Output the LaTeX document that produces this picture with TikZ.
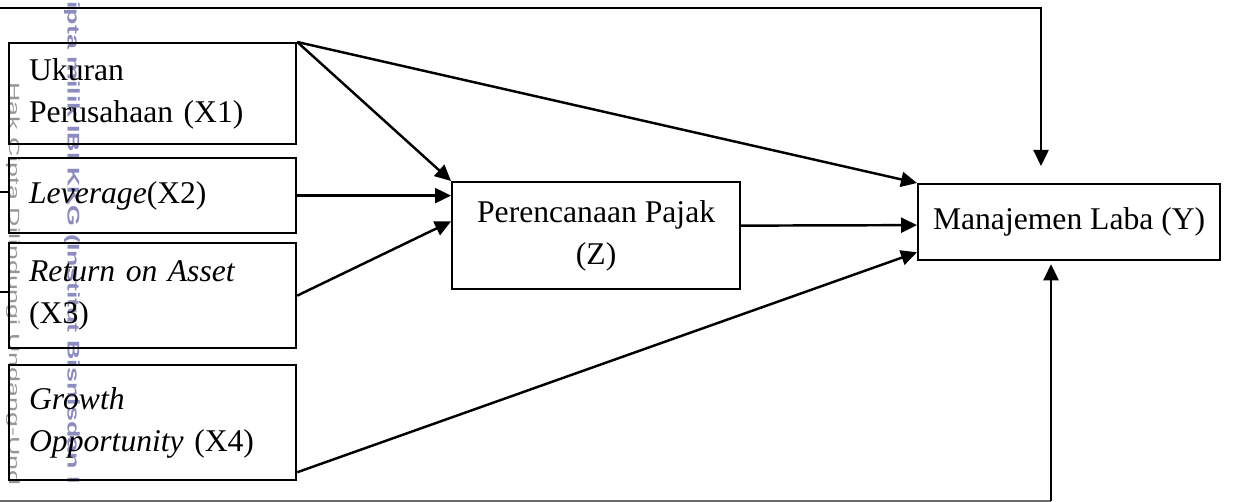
\documentclass[tikz,border=0pt]{standalone}
\usepackage{fontspec}
\setmainfont{Liberation Serif}
\newfontfamily\wmfont{Liberation Sans}
\usepackage{graphicx}
\usetikzlibrary{arrows.meta,calc}
\definecolor{wmblue}{RGB}{140,140,192}
\definecolor{wmgray}{RGB}{150,150,150}
\begin{document}
\begin{tikzpicture}[x=0.02cm,y=-0.02cm,
  box/.style={draw,line width=1.3pt,anchor=north west,inner sep=0pt,font=\fontsize{18}{23.8}\selectfont},
  lbox/.style={box,align=left,text width=4.94cm,inner xsep=0.4cm},
  cbox/.style={box,align=center},
  conn/.style={line width=1.4pt,-{Triangle[length=0.32cm,width=0.3cm]}},
  plain/.style={line width=1.3pt},
  wm/.style={anchor=west,rotate=-90,inner sep=0pt}
]
\useasboundingbox (0,0) rectangle (1260,502);

% watermark (visible parts only)
\node[wm,text=wmgray,font=\wmfont\fontsize{15.3}{16}\selectfont] (wmA) at (13,82)
  {\scalebox{1}[0.55]{Hak Cipta Dilindungi Undang-Und}};
\node[wm,text=wmblue,font=\wmfont\bfseries\fontsize{15.3}{16}\selectfont] (wmB) at (72,1)
  {\scalebox{1}[0.63]{ipta milik IBI KKG (Institut Bisnisdan I}};

% boxes
\node[lbox,minimum height=2.02cm] (x1) at (8,42) {Ukuran\\Perusahaan (X1)};
\node[lbox,minimum height=1.5cm] (x2) at (8,157) {\textit{Leverage}(X2)};
\node[lbox,minimum height=2.1cm] (x3) at (8,242) {\textit{Return on Asset}\\(X3)};
\node[lbox,minimum height=2.3cm] (x4) at (8,364) {\textit{Growth}\\\textit{Opportunity} (X4)};
\node[cbox,minimum width=5.76cm,minimum height=2.14cm] (z) at (451,181) {Perencanaan Pajak\\(Z)};
\node[cbox,minimum width=6.04cm,minimum height=1.52cm] (y) at (917,183) {Manajemen Laba (Y)};

% free-end coordinates
\coordinate (tl) at (0,8);
\coordinate (ttip) at (1041,166);
\coordinate (bl) at (0,501);
\coordinate (br) at (1051,501);
\coordinate (s2) at (0,192);
\coordinate (s3) at (0,292);

% stubs
\draw[plain] (s2) -- (s2 -| x2.west);
\draw[plain] (s3) -- (s3 -| x3.west);

% connectors
\draw[conn] (x1.north east) -- (z.north west);
\draw[conn] (x2.east) -- (x2.east -| z.west);
\draw[conn] (x3.east) -- ($(z.north west)!0.37!(z.south west)$);
\draw[conn] (x1.north east) -- (y.north west);
\draw[conn] ($(z.east)+(0,-10)$) -- ($(y.west)+(0,3)$);
\draw[conn] ($(x4.south east)+(0,-9)$) -- ($(y.south west)+(0,-9)$);
\draw[conn] (tl) -| (ttip);
\draw[line width=0.8pt,wmgray!70!black] (bl) -- (br);
\draw[conn,shorten >=3*0.02cm] (br) -- (br |- y.south);
\end{tikzpicture}
\end{document}
